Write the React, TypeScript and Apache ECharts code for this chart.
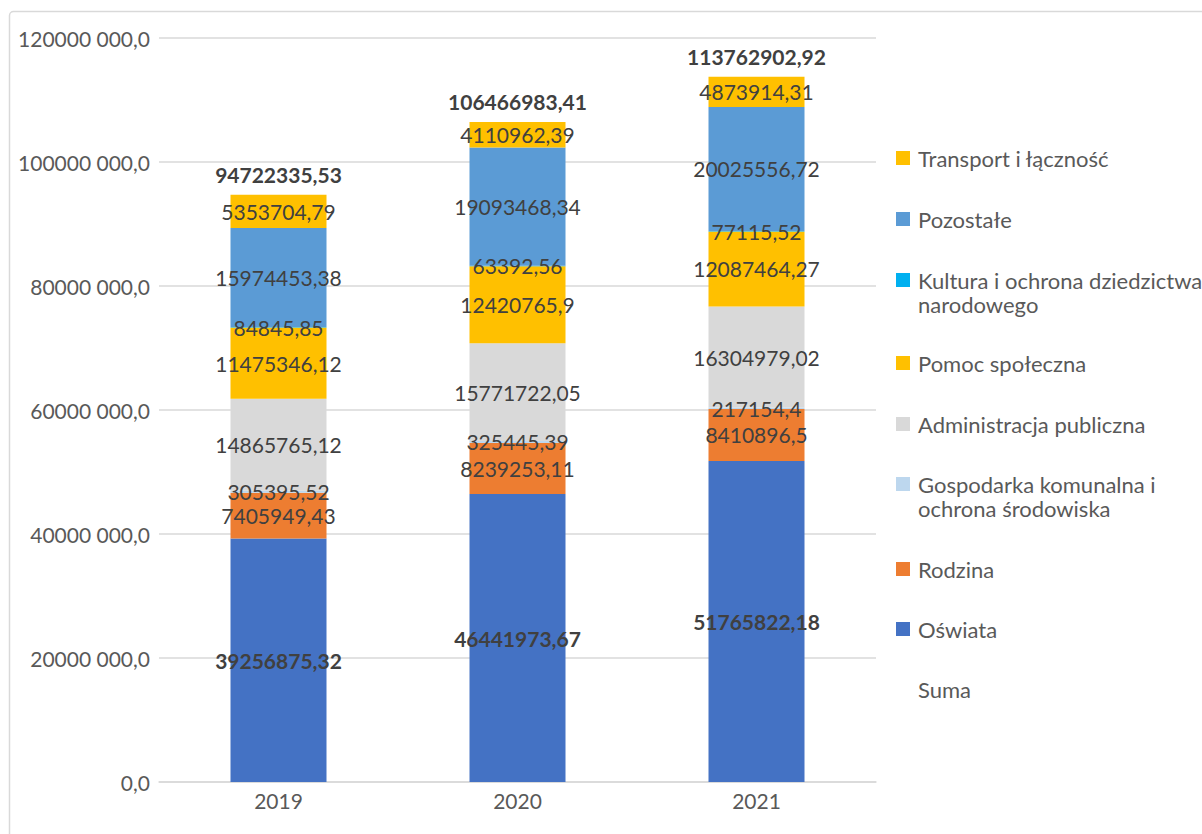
import React, { useEffect, useRef } from "react";
import * as echarts from "echarts";

const years = ["2019", "2020", "2021"];
const oswiata = [39256875.32, 46441973.67, 51765822.18];
const rodzina = [7405949.43, 8239253.11, 8410896.5];
const gospodarka = [305395.52, 325445.39, 217154.4];
const administracja = [14865765.12, 15771722.05, 16304979.02];
const pomoc = [11475346.12, 12420765.9, 12087464.27];
const kultura = [84845.85, 63392.56, 77115.52];
const pozostale = [15974453.38, 19093468.34, 20025556.72];
const transport = [5353704.79, 4110962.39, 4873914.31];
const suma = [94722335.53, 106466983.41, 113762902.92];

const FONT = "Lato, 'Open Sans', sans-serif";
const LABEL_COLOR = "#404040";
const AXIS_COLOR = "#595959";

const fmt = (v: number) => String(v).replace(".", ",");

const seriesDefs = [
  { name: "Oświata", data: oswiata, color: "#4472C4", bold: true },
  { name: "Rodzina", data: rodzina, color: "#ED7D31", bold: false },
  { name: "Gospodarka komunalna i ochrona środowiska", data: gospodarka, color: "#BDD7EE", bold: false },
  { name: "Administracja publiczna", data: administracja, color: "#D9D9D9", bold: false },
  { name: "Pomoc społeczna", data: pomoc, color: "#FFC000", bold: false },
  { name: "Kultura i ochrona dziedzictwa narodowego", data: kultura, color: "#00B0F0", bold: false },
  { name: "Pozostałe", data: pozostale, color: "#5B9BD5", bold: false },
  { name: "Transport i łączność", data: transport, color: "#FFC000", bold: false },
];

const legendItems = [
  { name: "Transport i łączność", center: 158, two: false },
  { name: "Pozostałe", center: 219, two: false },
  { name: "Kultura i ochrona dziedzictwa narodowego", center: 280, two: true },
  { name: "Pomoc społeczna", center: 363, two: false },
  { name: "Administracja publiczna", center: 424, two: false },
  { name: "Gospodarka komunalna i ochrona środowiska", center: 484, two: true },
  { name: "Rodzina", center: 569, two: false },
  { name: "Oświata", center: 629, two: false },
  { name: "Suma", center: 689, two: false },
];

const legendBreak: Record<string, string> = {
  "Kultura i ochrona dziedzictwa narodowego": "Kultura i ochrona dziedzictwa\nnarodowego",
  "Gospodarka komunalna i ochrona środowiska": "Gospodarka komunalna i\nochrona środowiska",
};

export default function App() {
  const ref = useRef<HTMLDivElement>(null);
  useEffect(() => {
    document.body.style.margin = "0";
    const chart = echarts.init(ref.current!, null, { renderer: "svg" });
    const series: any[] = seriesDefs.map((s) => ({
      name: s.name,
      type: "bar",
      stack: "total",
      barWidth: 96,
      data: s.data,
      itemStyle: { color: s.color },
      label: {
        show: true,
        position: "inside",
        formatter: (p: any) => fmt(p.value),
        color: LABEL_COLOR,
        fontFamily: FONT,
        fontSize: 21,
        fontWeight: s.bold ? "bold" : "normal",
        textBorderWidth: 0,
      },
    }));
    series.push({
      name: "Suma",
      type: "bar",
      stack: "total",
      barWidth: 96,
      data: suma.map(() => 0),
      itemStyle: { color: "rgba(0,0,0,0)" },
      label: {
        show: true,
        position: "top",
        distance: 10,
        formatter: (p: any) => fmt(suma[p.dataIndex]),
        color: LABEL_COLOR,
        fontFamily: FONT,
        fontSize: 21,
        fontWeight: "bold",
      },
    });

    const legends = legendItems.map((it) => ({
      data: [it.name],
      orient: "vertical",
      left: 896,
      top: it.center - 12,
      padding: 0,
      itemWidth: 14,
      itemHeight: it.two ? 48 : 14,
      icon: it.two
        ? "path://M0,5L14,5L14,19L0,19Z M0,0L0.01,0L0.01,0.01L0,0.01Z M0,47.99L0.01,47.99L0.01,48L0,48Z"
        : "rect",
      formatter: (n: string) => legendBreak[n] || n,
      textStyle: {
        fontFamily: FONT,
        fontSize: 22,
        color: AXIS_COLOR,
        lineHeight: 24,
        padding: [0, 0, 0, 3],
      },
      selectedMode: false,
    }));

    chart.setOption({
      animation: false,
      backgroundColor: "#ffffff",
      grid: { left: 159, right: 326, top: 38, bottom: 52 },
      legend: legends,
      xAxis: {
        type: "category",
        data: years,
        axisLine: { show: true, lineStyle: { color: "#D9D9D9", width: 1.5 } },
        axisTick: { show: false },
        axisLabel: { color: AXIS_COLOR, fontFamily: FONT, fontSize: 21, margin: 8 },
      },
      yAxis: {
        type: "value",
        min: 0,
        max: 120000000,
        interval: 20000000,
        axisLine: { show: false },
        axisTick: { show: false },
        splitLine: { lineStyle: { color: "#D9D9D9", width: 1.5 } },
        axisLabel: {
          color: AXIS_COLOR,
          fontFamily: FONT,
          fontSize: 21,
          margin: 9,
          formatter: (v: number) =>
            v === 0 ? "0,0" : `${Math.floor(v / 1000)} ${String(v % 1000).padStart(3, "0")},0`,
        },
      },
      graphic: [
        {
          type: "rect",
          shape: { x: 9.5, y: 11.5, width: 1300, height: 900, r: 4 },
          style: { fill: "none", stroke: "#D9D9D9", lineWidth: 1.5 },
          silent: true,
          z: -1,
        },
      ],
      series,
    });
    return () => chart.dispose();
  }, []);
  return (
    <div
      ref={ref}
      style={{ position: "absolute", left: 0, top: 0, width: 1202, height: 834 }}
    />
  );
}
